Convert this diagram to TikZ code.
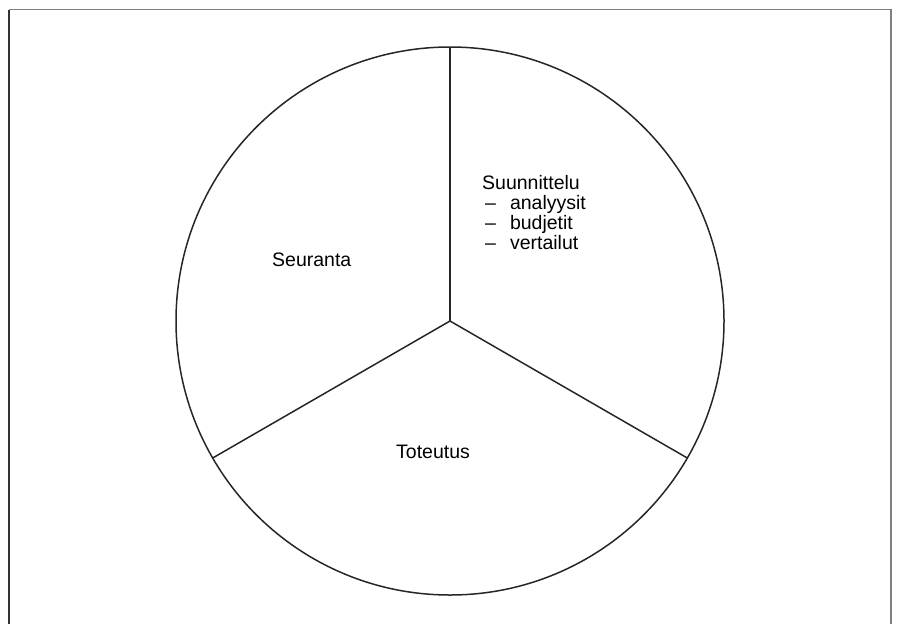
\documentclass[tikz,border=0pt]{standalone}
\usepackage{fontspec}
\setmainfont{Liberation Sans}
\begin{document}
\begin{tikzpicture}[x=1pt,y=-1pt,
  lbl/.style={anchor=base west,inner sep=0pt,font=\fontsize{19.5}{20}\selectfont},
  frame/.style={line width=1.6pt},
  pie/.style={line width=1.5pt,black!85}]
\useasboundingbox (0,0) rectangle (899,624);
% frame
\draw[frame,black!80] (9,624) -- (9,9.5);
\draw[frame,black!50] (9,9.5) -- (891,9.5) -- (891,624);
% pie
\coordinate (c) at (450,321);
\draw[pie] (c) circle (274);
\coordinate (top) at (450,47);
\coordinate (bl) at (212.7,458);
\coordinate (br) at (687.3,458);
\draw[pie] (c) -- (top);
\draw[pie] (c) -- (bl);
\draw[pie] (c) -- (br);
% labels
\node[lbl] (su) at (482,189) {Suunnittelu};
\node[lbl] (a1) at (485,209) {–\hspace{14pt}analyysit};
\node[lbl] (a2) at (485,229) {–\hspace{14pt}budjetit};
\node[lbl] (a3) at (485,249) {–\hspace{14pt}vertailut};
\node[lbl] (se) at (272,266) {Seuranta};
\node[lbl] (to) at (396,458) {Toteutus};
\end{tikzpicture}
\end{document}
